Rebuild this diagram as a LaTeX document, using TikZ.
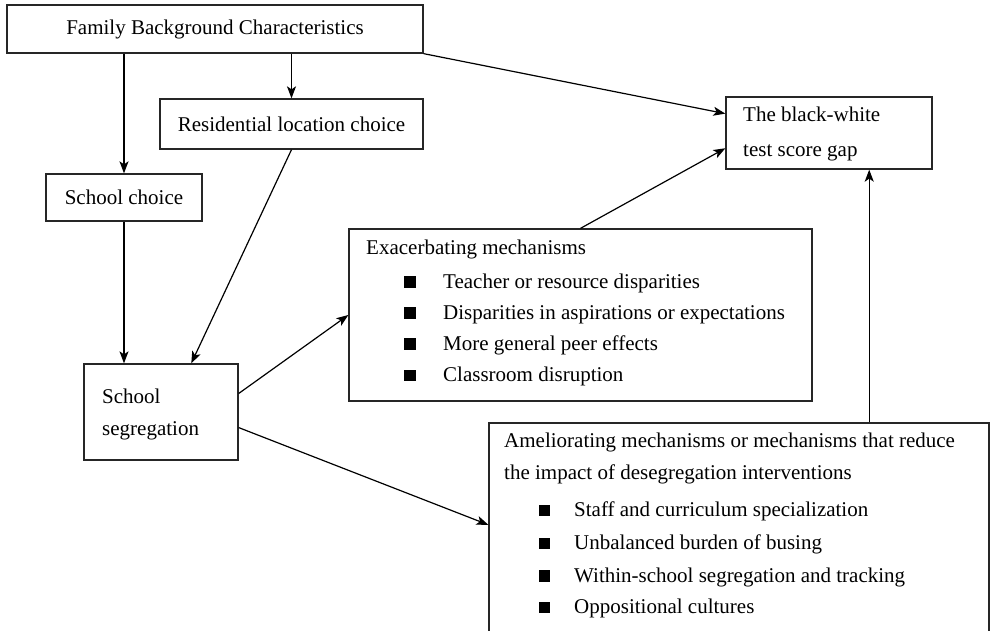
\documentclass[tikz,border=0pt]{standalone}
\usepackage{fontspec}
\setmainfont{Liberation Serif}
\usetikzlibrary{arrows.meta,calc}
\begin{document}
\begin{tikzpicture}[x=1pt,y=-1pt,
  box/.style={draw=black!85, line width=1.3pt, rectangle, inner sep=0pt,
              font=\fontsize{21}{25}\selectfont},
  txt/.style={inner sep=0pt, anchor=base west, font=\fontsize{21}{25}\selectfont},
  bul/.style={fill=black, rectangle, minimum size=11.5pt, inner sep=0pt, anchor=south},
  arr/.style={line width=1.2pt, -{Stealth[length=12pt,width=9pt,inset=3pt]}}]
\clip (0,0) rectangle (990,631);

% boxes
\node[box, minimum width=416pt, minimum height=48pt] (fam) at (215,29)
  {Family Background Characteristics};
\node[box, minimum width=263pt, minimum height=50pt] (res) at (291.5,124)
  {Residential location choice};
\node[box, minimum width=156pt, minimum height=47pt] (sc) at (124,197.5)
  {School choice};
\node[box, minimum width=154pt, minimum height=96pt] (seg) at (161,412) {};
\node[box, minimum width=206pt, minimum height=72pt] (gap) at (829,133) {};
\node[box, minimum width=463pt, minimum height=172pt] (exa) at (580.5,315) {};
\node[box, minimum width=500pt, minimum height=237pt] (ame) at (739,541.5) {};

% text of the multi-line boxes
\node[txt] (seg1) at (102,403) {School};
\node[txt] (seg2) at (102,435) {segregation};
\node[txt] (gap1) at (743,122) {The black-white};
\node[txt] (gap2) at (743,157) {test score gap};

\node[txt] (exat) at (366,254) {Exacerbating mechanisms};
\node[bul] (eb1) at (410,288) {};
\node[txt] (ex1) at (443,288) {Teacher or resource disparities};
\node[bul] (eb2) at (410,319) {};
\node[txt] (ex2) at (443,319) {Disparities in aspirations or expectations};
\node[bul] (eb3) at (410,350) {};
\node[txt] (ex3) at (443,350) {More general peer effects};
\node[bul] (eb4) at (410,381.5) {};
\node[txt] (ex4) at (443,381.5) {Classroom disruption};

\node[txt] (amt1) at (504,447) {Ameliorating mechanisms or mechanisms that reduce};
\node[txt] (amt2) at (504,479) {the impact of desegregation interventions};
\node[bul] (ab1) at (544.5,516.5) {};
\node[txt] (am1) at (574,516.5) {Staff and curriculum specialization};
\node[bul] (ab2) at (544.5,549.5) {};
\node[txt] (am2) at (574,549.5) {Unbalanced burden of busing};
\node[bul] (ab3) at (544.5,582) {};
\node[txt] (am3) at (574,582) {Within-school segregation and tracking};
\node[bul] (ab4) at (544.5,613.5) {};
\node[txt] (am4) at (574,613.5) {Oppositional cultures};

% connectors
\draw[arr] (sc.north |- fam.south) -- (sc.north);
\draw[arr] (res.north |- fam.south) -- (res.north);
\draw[arr] (sc.south) -- (sc.south |- seg.north);
\draw[arr] (res.south) -- ($(seg.north west)!0.695!(seg.north east)$);
\draw[arr] (fam.south east) -- ($(gap.north west)!0.236!(gap.south west)$);
\draw[arr] (exa.north) -- ($(gap.north west)!0.708!(gap.south west)$);
\coordinate (gapin) at ($(gap.south west)!0.694!(gap.south east)$);
\draw[arr] (gapin |- ame.north) -- (gapin);
\draw[arr] ($(seg.north east)!0.31!(seg.south east)$) -- (exa.west);
\draw[arr] ($(seg.north east)!0.66!(seg.south east)$) -- ($(ame.north west)!0.43!(ame.south west)$);
\end{tikzpicture}
\end{document}
